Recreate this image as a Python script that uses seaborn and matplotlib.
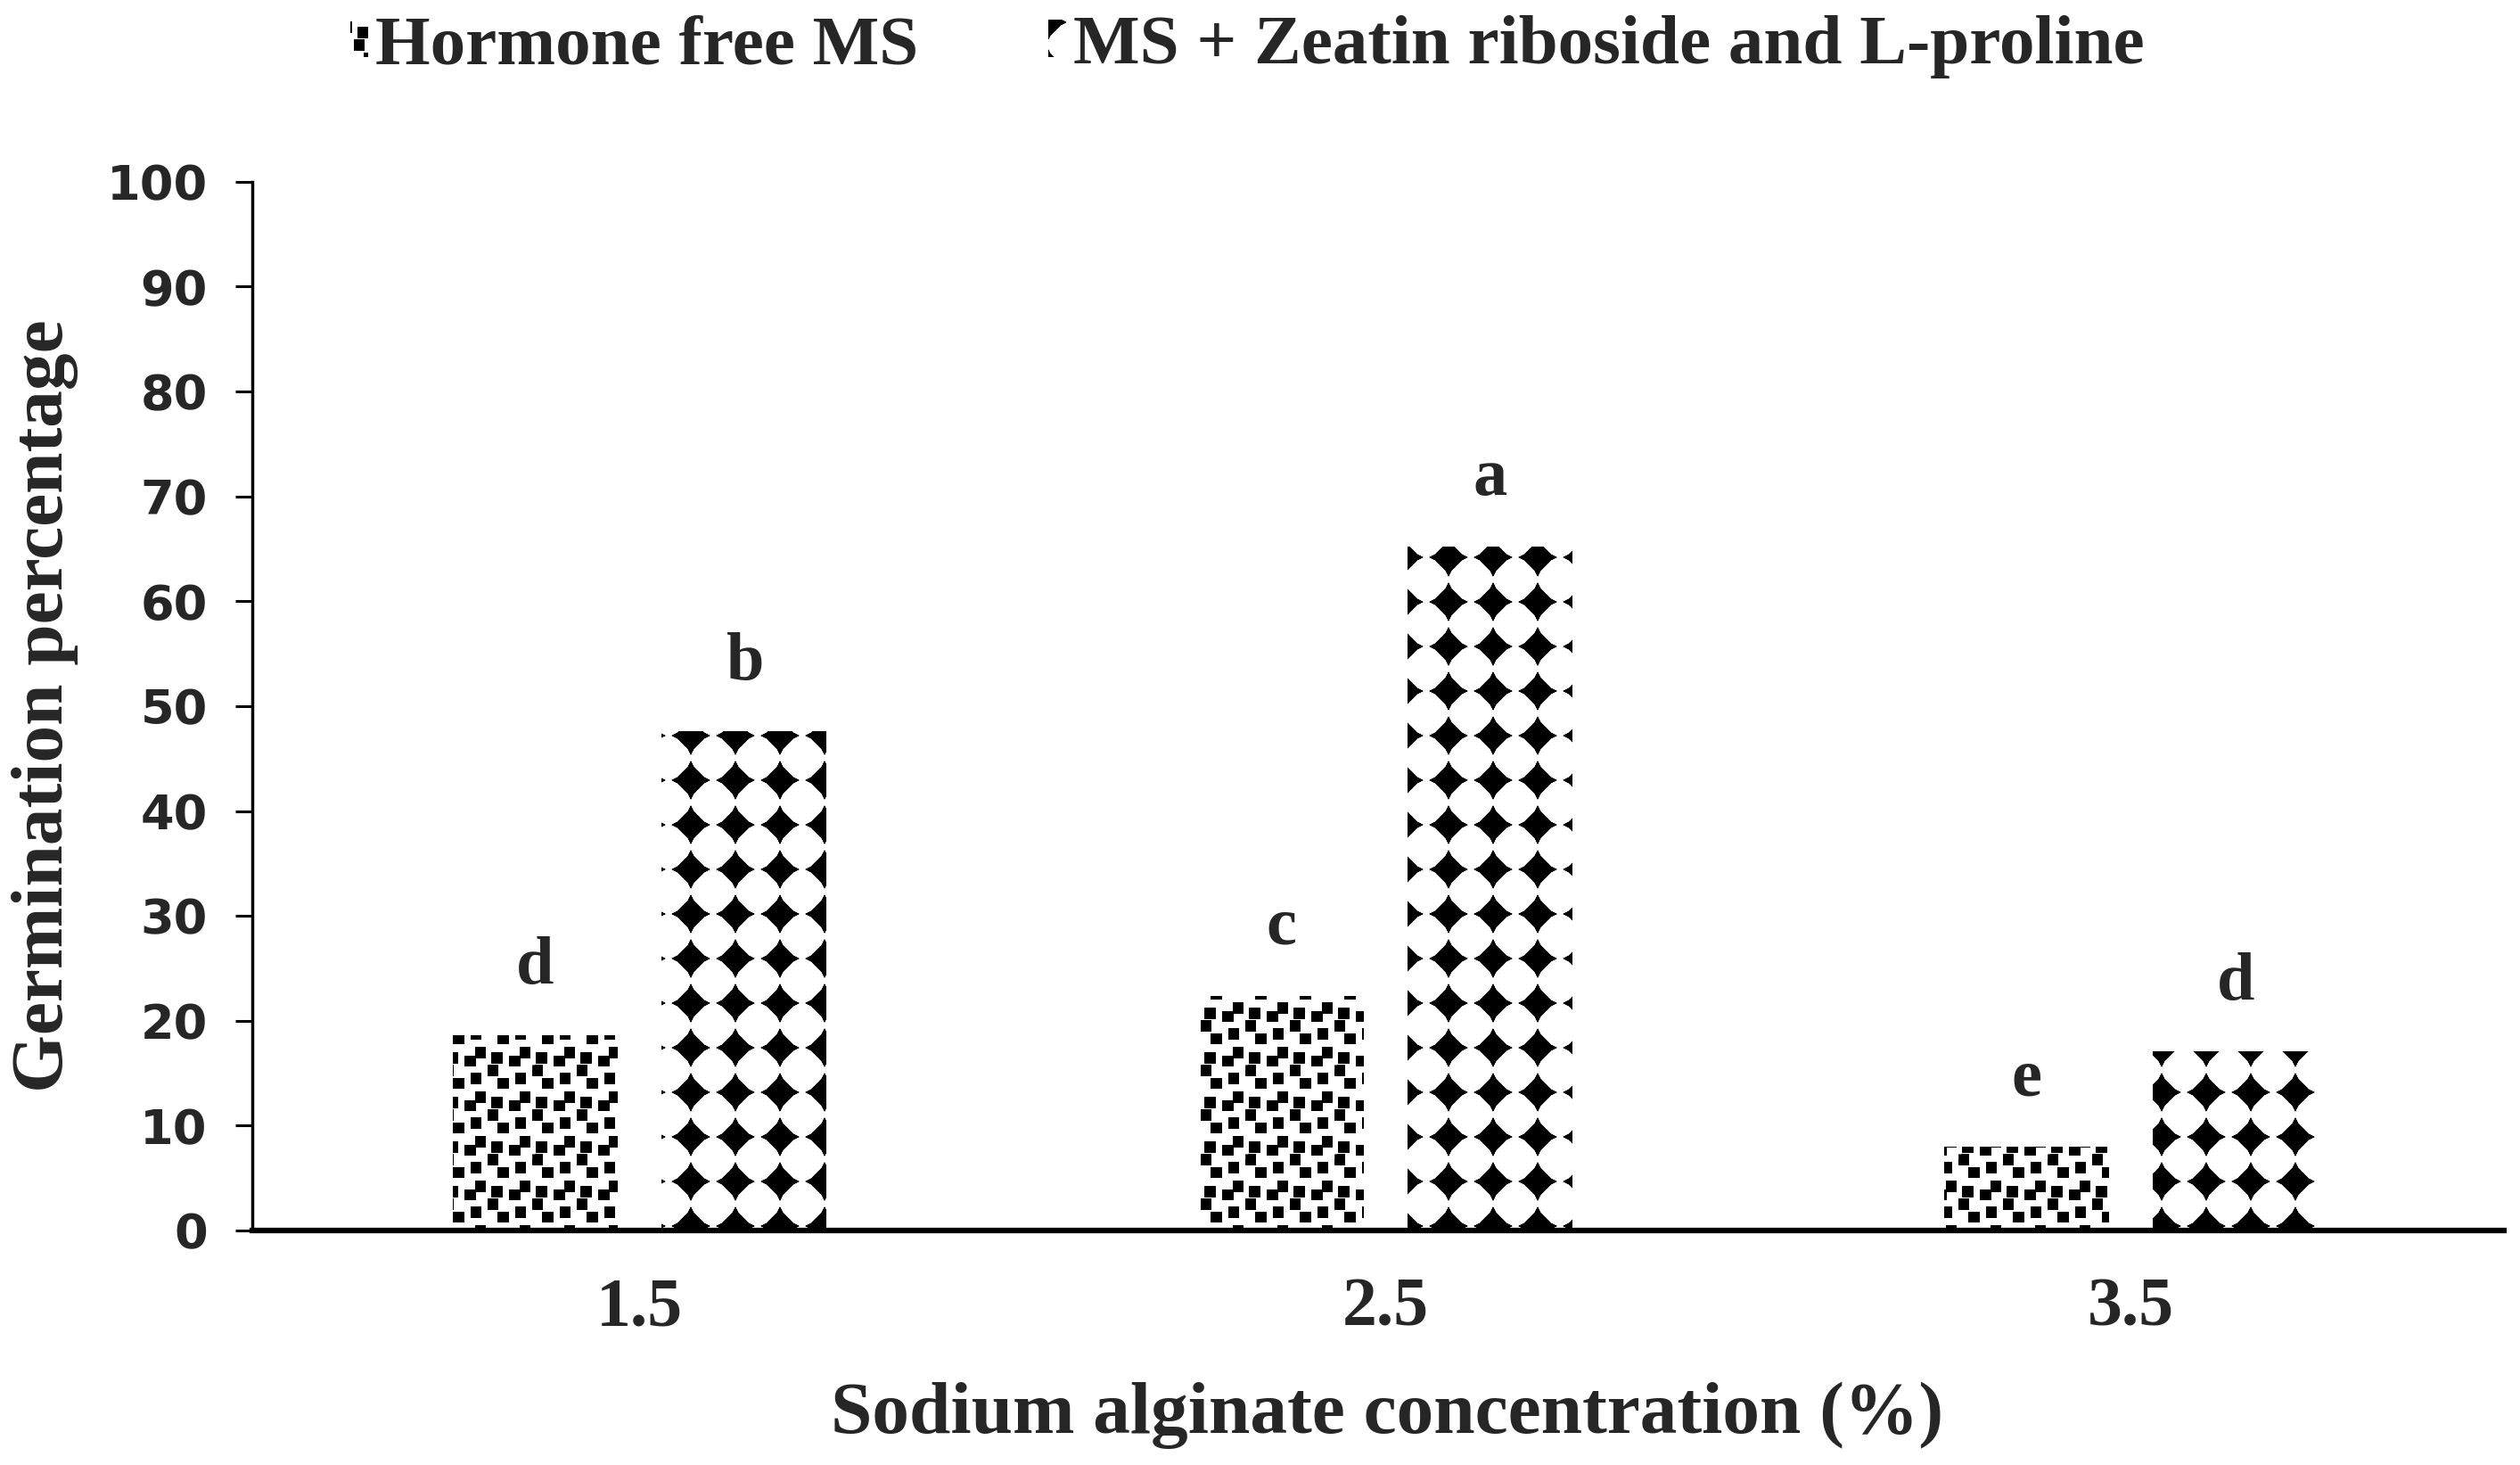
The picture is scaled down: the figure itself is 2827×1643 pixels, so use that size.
import numpy as np
import pandas as pd
import matplotlib
matplotlib.use("Agg")
import matplotlib.pyplot as plt
from matplotlib import hatch as mhatch
from matplotlib.path import Path
import seaborn as sns

# data
concentrations = ["1.5", "2.5", "3.5"]
hormone_free = [18.6, 22.4, 8.0]
zeatin_proline = [47.6, 65.2, 17.1]
letters_hormone_free = ["d", "c", "e"]
letters_zeatin_proline = ["b", "a", "d"]
series_names = ["Hormone free MS", "MS + Zeatin riboside and L-proline"]
y_ticks = list(range(0, 101, 10))


class _TiledShapes(mhatch.HatchPatternBase):
    """Filled shapes repeated on a square grid, like an Excel pattern fill."""
    char = ""
    per_unit = 2
    centers = [(0.5, 0.5)]
    shape = np.zeros((0, 2))

    def __init__(self, hatch, density):
        self.reps = self.per_unit * hatch.count(self.char) if hatch else 0
        n_copies = self.reps ** 2 * len(self.centers) * 9
        self.num_vertices = n_copies * (len(self.shape) + 1) if self.reps else 0

    def set_vertices_and_codes(self, vertices, codes):
        k = len(self.shape) + 1
        pos = 0
        for i in range(self.reps):
            for j in range(self.reps):
                for cx, cy in self.centers:
                    for dx in (-1, 0, 1):
                        for dy in (-1, 0, 1):
                            c = np.array([i + cx + dx, j + cy + dy]) / self.reps
                            pts = c + self.shape / self.reps
                            vertices[pos:pos + k - 1] = pts
                            vertices[pos + k - 1] = pts[0]
                            codes[pos] = Path.MOVETO
                            codes[pos + 1:pos + k - 1] = Path.LINETO
                            codes[pos + k - 1] = Path.CLOSEPOLY
                            pos += k


class WeaveSquares(_TiledShapes):
    char = "."
    centers = [(0.15, 0.27), (0.55, 0.20), (0.78, 0.39),
               (0.29, 0.70), (0.68, 0.81), (0.06, 0.99)]
    shape = np.array([[-0.115, -0.115], [0.115, -0.115], [0.115, 0.115], [-0.115, 0.115]])


class Diamonds(_TiledShapes):
    char = "*"
    centers = [(0.5, 0.5)]
    shape = np.array([
        [0.42, 0.0], [0.30, 0.06], [0.18, 0.18], [0.06, 0.30],
        [0.0, 0.42], [-0.06, 0.30], [-0.18, 0.18], [-0.30, 0.06],
        [-0.42, 0.0], [-0.30, -0.06], [-0.18, -0.18], [-0.06, -0.30],
        [0.0, -0.42], [0.06, -0.30], [0.18, -0.18], [0.30, -0.06],
    ])


mhatch._hatch_types = [t for t in mhatch._hatch_types
                       if t not in (mhatch.SmallFilledCircles, mhatch.Stars)]
mhatch._hatch_types += [WeaveSquares, Diamonds]

sns.set_style("white")
plt.rcParams["font.family"] = ["Liberation Serif", "DejaVu Serif"]
plt.rcParams["font.weight"] = "bold"
plt.rcParams["hatch.color"] = "black"
plt.rcParams["hatch.linewidth"] = 0.3

df = pd.DataFrame({
    "conc": concentrations * 2,
    "pct": hormone_free + zeatin_proline,
    "medium": [series_names[0]] * len(concentrations) + [series_names[1]] * len(concentrations),
})

fig = plt.figure(figsize=(28.27, 16.43), dpi=100)
ax = fig.add_axes([0.100, 0.160, 0.8936, 0.716])

sns.barplot(data=df, x="conc", y="pct", hue="medium", hue_order=series_names,
            palette=["white", "white"], saturation=1, width=0.56, gap=0.21,
            errorbar=None, edgecolor="black", linewidth=0, legend=False, ax=ax)

for container, hatch, letters in zip(ax.containers, [".", "*"],
                                     [letters_hormone_free, letters_zeatin_proline]):
    for bar, letter in zip(container, letters):
        bar.set_hatch(hatch)
        ax.text(bar.get_x() + bar.get_width() / 2, bar.get_height() + 6.5, letter,
                ha="center", va="center", fontsize=55, fontweight="bold")

ax.set_ylim(0, 100)
ax.set_xlim(-0.52, len(concentrations) - 0.5)
ax.set_yticks(y_ticks)
ax.set_yticklabels([str(t) for t in y_ticks], fontfamily="DejaVu Sans",
                   fontweight="bold", fontsize=39)
ax.tick_params(axis="y", direction="out", length=14, width=2.2, color="black", pad=22, left=True)
ax.tick_params(axis="x", length=0, pad=38, labelsize=56)
for lbl in ax.get_xticklabels():
    lbl.set_fontweight("bold")

for side in ["top", "right"]:
    ax.spines[side].set_visible(False)
ax.spines["left"].set_linewidth(2.5)
ax.spines["bottom"].set_linewidth(4.5)
ax.spines["left"].set_color("black")
ax.spines["bottom"].set_color("black")

ax.set_xlabel("Sodium alginate concentration (%)", fontsize=60, fontweight="bold", va="center")
ax.xaxis.set_label_coords(0.504, -0.176)
ax.set_ylabel("Germination percentage", fontsize=60, fontweight="bold", va="center")
ax.yaxis.set_label_coords(-0.092, 0.5)

fig.legend(handles=list(ax.containers), labels=series_names, loc="center",
           bbox_to_anchor=(0.495, 0.968), ncol=2, frameon=False,
           prop={"size": 57, "weight": "bold"}, handlelength=0.25, handleheight=0.45,
           handletextpad=0.1, columnspacing=1.85, borderaxespad=0)

fig.savefig("out.png", dpi=100, facecolor="white")
